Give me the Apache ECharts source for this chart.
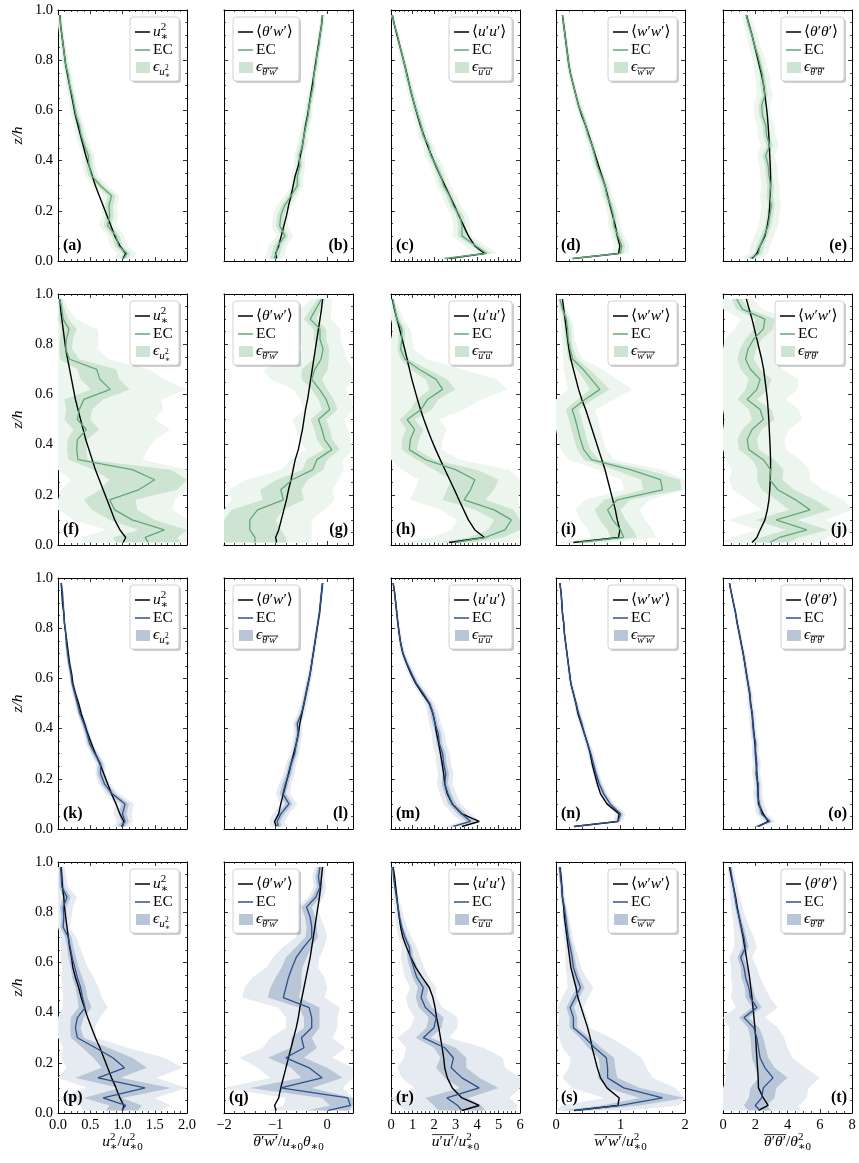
<!DOCTYPE html>
<html><head><meta charset="utf-8">
<script src="https://cdn.jsdelivr.net/npm/echarts@6/dist/echarts.min.js"></script>
<style>html,body{margin:0;padding:0;background:#fff}#c{width:859px;height:1163px}</style>
</head><body><div id="c"></div>
<script>
// heights z/h shared by all profiles
const Z = [0.01,0.03,0.06,0.1,0.14, 0.18,0.22,0.26,0.3,0.34, 0.38,0.42,0.46,0.5,0.54, 0.58,0.62,0.66,0.7,0.74, 0.78,0.82,0.86,0.9,0.94, 0.98];

// model profiles, case A (rows 1-2)
const mA_u2 = [1.01,1.05,0.96,0.88,0.82, 0.76,0.70,0.64,0.58,0.53, 0.48,0.43,0.39,0.35,0.31, 0.27,0.24,0.21,0.18,0.15, 0.12,0.10,0.08,0.06,0.04, 0.03];
const mA_tw = [-0.98,-1.0,-0.94,-0.89,-0.84, -0.79,-0.75,-0.70,-0.66,-0.62, -0.56,-0.52,-0.48,-0.45,-0.42, -0.38,-0.35,-0.32,-0.29,-0.26, -0.23,-0.20,-0.17,-0.14,-0.11, -0.09];
const mA_uu = [2.7,4.35,3.9,3.6,3.38, 3.16,2.95,2.73,2.51,2.29, 2.08,1.88,1.7,1.53,1.37, 1.23,1.1,0.97,0.86,0.75, 0.64,0.52,0.4,0.28,0.16, 0.06];
const mA_ww = [0.27,0.97,0.99,0.95,0.92, 0.88,0.84,0.80,0.76,0.71, 0.66,0.61,0.56,0.51,0.46, 0.40,0.35,0.31,0.27,0.23, 0.20,0.18,0.16,0.14,0.12, 0.10];
const mA_tt = [1.8,2.1,2.3,2.6,2.75, 2.85,2.9,2.93,2.95,2.95, 2.93,2.9,2.87,2.84,2.8, 2.75,2.68,2.6,2.52,2.4, 2.25,2.1,1.95,1.8,1.62, 1.45];
// model profiles, case B (rows 3-4)
const mB_u2 = [1.0,1.02,0.96,0.9,0.83, 0.77,0.71,0.65,0.58,0.52, 0.46,0.41,0.36,0.32,0.27, 0.23,0.21,0.18,0.16,0.14, 0.12,0.1,0.09,0.07,0.06, 0.05];
const mB_tw = [-0.99,-1.02,-0.94,-0.9,-0.85, -0.8,-0.75,-0.7,-0.65,-0.6, -0.56,-0.53,-0.49,-0.45,-0.41, -0.37,-0.33,-0.3,-0.27,-0.24, -0.21,-0.18,-0.15,-0.13,-0.11, -0.09];
const mB_uu = [3.3,4.1,3.3,2.85,2.62, 2.5,2.45,2.38,2.3,2.22, 2.12,2.05,1.95,1.78,1.45, 1.15,0.92,0.72,0.55,0.45, 0.38,0.32,0.27,0.22,0.17, 0.1];
const mB_ww = [0.28,0.96,0.98,0.79,0.69, 0.64,0.6,0.56,0.53,0.49, 0.44,0.39,0.34,0.31,0.27, 0.23,0.21,0.19,0.17,0.15, 0.13,0.12,0.1,0.09,0.08, 0.06];
const mB_tt = [2.2,2.8,2.5,2.2,2.18, 2.14,2.1,2.06,2.03,1.98, 1.92,1.86,1.8,1.72,1.65, 1.55,1.45,1.35,1.25,1.13, 1.0,0.88,0.78,0.65,0.52, 0.4];

// EC estimates per panel
const ec_a = [1.02,1.07,0.94,0.9,0.77, 0.80,0.79,0.83,0.66,0.52, 0.48,0.47,0.41,0.36,0.33, 0.28,0.25,0.22,0.18,0.16, 0.12,0.10,0.08,0.06,0.04, 0.03];
const ec_b = [-1.03,-0.99,-0.96,-0.82,-0.92, -0.90,-0.83,-0.70,-0.58,-0.58, -0.53,-0.54,-0.48,-0.45,-0.41, -0.37,-0.35,-0.31,-0.27,-0.26, -0.22,-0.20,-0.16,-0.14,-0.11, -0.09];
const ec_c = [2.5,4.45,3.95,3.3,3.3, 3.2,2.9,2.72,2.45,2.3, 2.1,1.85,1.75,1.5,1.4, 1.25,1.1,0.98,0.86,0.74, 0.64,0.52,0.4,0.3,0.16, 0.06];
const ec_d = [0.25,1.0,1.02,0.96,0.9, 0.89,0.85,0.79,0.76,0.70, 0.64,0.60,0.56,0.5,0.46, 0.41,0.35,0.31,0.27,0.23, 0.2,0.18,0.16,0.14,0.12, 0.1];
const ec_e = [1.7,2.2,2.3,2.55,2.8, 2.9,3.0,2.9,2.95,2.85, 2.8,2.65,2.9,2.7,2.65, 2.45,2.4,2.6,2.5,2.45, 2.3,2.15,1.95,1.8,1.6, 1.45];
const ec_f = [1.4,1.35,1.65,1.15,0.88, 0.8,1.25,1.5,1.15,0.31, 0.29,0.3,0.44,0.3,0.33, 0.4,0.81,0.65,0.6,0.18, 0.12,0.13,0.17,0.08,0.06, 0.03];
const ec_g = [-1.4,-1.4,-1.5,-1.5,-1.35, -0.85,-0.9,-0.68,-0.28,-0.2, 0.09,-0.05,-0.1,-0.17,0.05, -0.02,-0.15,-0.3,-0.24,-0.12, -0.08,-0.14,-0.14,-0.33,-0.22, -0.11];
const ec_h = [3.0,4.4,5.3,5.6,4.8, 3.4,3.7,3.9,3.0,1.6, 0.85,0.9,1.1,0.75,1.4, 1.7,2.4,2.1,1.3,0.65, 0.45,0.5,0.5,0.28,0.18, 0.08];
const ec_i = [0.35,1.05,1.0,0.88,0.8, 0.95,1.65,1.62,1.15,0.55, 0.43,0.38,0.34,0.3,0.25, 0.45,0.68,0.55,0.42,0.26, 0.22,0.19,0.18,0.16,0.1, 0.06];
const ec_j = [2.9,3.5,5.2,3.3,5.4, 4.5,3.4,2.9,2.95,2.5, 1.6,1.5,1.8,2.5,2.3, 1.5,2.1,2.3,1.7,1.4, 1.55,1.9,2.5,2.6,1.2, 0.85];
const ec_k = [0.98,1.04,1.0,1.04,0.84, 0.72,0.66,0.66,0.57,0.49, 0.45,0.40,0.34,0.30,0.26, 0.22,0.2,0.17,0.15,0.13, 0.12,0.1,0.09,0.08,0.07, 0.05];
const ec_l = [-0.95,-0.97,-0.9,-0.74,-0.86, -0.81,-0.74,-0.7,-0.63,-0.6, -0.56,-0.58,-0.5,-0.45,-0.41, -0.37,-0.33,-0.3,-0.27,-0.24, -0.21,-0.18,-0.15,-0.13,-0.11, -0.09];
const ec_m = [2.9,3.7,3.3,2.85,2.65, 2.5,2.55,2.45,2.4,2.25, 2.2,2.05,1.95,1.8,1.5, 1.18,0.95,0.74,0.56,0.45, 0.38,0.32,0.27,0.22,0.17, 0.1];
const ec_n = [0.28,0.96,1.0,0.84,0.74, 0.67,0.62,0.58,0.54,0.49, 0.44,0.4,0.35,0.31,0.27, 0.23,0.21,0.19,0.17,0.15, 0.13,0.12,0.1,0.09,0.08, 0.06];
const ec_o = [2.1,2.9,2.4,2.25,2.15, 2.18,2.05,2.1,2.0,2.02, 1.9,1.85,1.82,1.7,1.67, 1.55,1.45,1.36,1.25,1.12, 1.02,0.88,0.78,0.65,0.52, 0.4];
const ec_p = [0.99,1.05,0.7,1.35,0.62, 1.03,0.85,0.58,0.3,0.27, 0.3,0.42,0.38,0.35,0.3, 0.26,0.22,0.19,0.16,0.08, 0.09,0.08,0.14,0.06,0.05, 0.04];
const ec_q = [0.02,0.45,0.4,-0.9,-0.1, -0.35,-0.8,-0.45,-0.5,-0.3, -0.3,-0.35,-0.85,-0.8,-0.75, -0.68,-0.6,-0.46,-0.3,-0.3, -0.33,-0.4,-0.22,-0.14,-0.17, -0.14];
const ec_r = [3.3,3.1,2.6,4.1,3.3, 2.8,2.9,2.5,1.5,2.0, 2.1,1.6,1.4,1.5,1.2, 1.05,0.9,0.85,0.65,0.5, 0.4,0.33,0.25,0.18,0.12, 0.08];
const ec_s = [0.3,1.0,1.65,1.05,0.8, 0.8,0.78,0.6,0.45,0.27, 0.27,0.22,0.3,0.38,0.32, 0.27,0.25,0.22,0.19,0.17, 0.15,0.13,0.1,0.09,0.07, 0.06];
const ec_t = [2.3,2.0,2.4,2.5,3.1, 2.6,2.3,2.2,2.1,1.9, 1.3,2.1,1.7,1.6,1.4, 1.3,1.1,1.4,1.3,1.15, 1.0,0.85,0.75,0.65,0.55, 0.45];

// uncertainty half-widths: inner (dark) and outer (light) bands
const in_a = [0.06,0.06,0.06,0.06,0.06, 0.06,0.06,0.06,0.05,0.05, 0.05,0.05,0.04,0.04,0.04, 0.04,0.03,0.03,0.03,0.03, 0.03,0.02,0.02,0.02,0.02, 0.02];
const out_a = [0.15,0.15,0.14,0.13,0.13, 0.13,0.12,0.12,0.12,0.1, 0.1,0.09,0.09,0.08,0.08, 0.07,0.07,0.06,0.06,0.05, 0.05,0.05,0.04,0.04,0.04, 0.03];
const in_b = [0.08,0.08,0.08,0.07,0.07, 0.07,0.06,0.06,0.06,0.05, 0.05,0.05,0.05,0.04,0.04, 0.04,0.04,0.04,0.03,0.03, 0.03,0.03,0.03,0.03,0.03, 0.02];
const out_b = [0.18,0.18,0.17,0.16,0.16, 0.15,0.14,0.13,0.12,0.12, 0.11,0.1,0.1,0.09,0.08, 0.08,0.07,0.07,0.06,0.06, 0.06,0.05,0.05,0.05,0.04, 0.04];
const in_c = [0.2,0.2,0.2,0.2,0.18, 0.17,0.16,0.15,0.15,0.14, 0.13,0.12,0.12,0.11,0.1, 0.1,0.09,0.09,0.08,0.08, 0.07,0.07,0.06,0.06,0.05, 0.04];
const out_c = [0.5,0.5,0.5,0.45,0.4, 0.38,0.36,0.34,0.32,0.3, 0.3,0.28,0.26,0.24,0.22, 0.2,0.2,0.18,0.16,0.15, 0.14,0.13,0.12,0.1,0.08, 0.06];
const in_d = [0.05,0.05,0.05,0.05,0.04, 0.04,0.04,0.04,0.04,0.04, 0.03,0.03,0.03,0.03,0.03, 0.03,0.03,0.02,0.02,0.02, 0.02,0.02,0.02,0.02,0.02, 0.01];
const out_d = [0.12,0.12,0.12,0.1,0.09, 0.09,0.08,0.08,0.08,0.07, 0.07,0.07,0.06,0.06,0.06, 0.05,0.05,0.05,0.04,0.04, 0.04,0.03,0.03,0.03,0.03, 0.02];
const in_e = [0.25,0.25,0.22,0.2,0.2, 0.2,0.2,0.2,0.2,0.2, 0.2,0.2,0.2,0.2,0.2, 0.2,0.2,0.18,0.18,0.16, 0.15,0.14,0.13,0.12,0.12, 0.1];
const out_e = [0.6,0.6,0.6,0.6,0.6, 0.6,0.6,0.6,0.55,0.55, 0.55,0.55,0.55,0.55,0.55, 0.5,0.5,0.5,0.45,0.45, 0.4,0.4,0.35,0.35,0.3, 0.25];
const in_f = [0.5,0.5,0.4,0.35,0.35, 0.4,0.6,0.7,0.6,0.15, 0.15,0.15,0.2,0.2,0.2, 0.3,0.3,0.3,0.3,0.15, 0.1,0.1,0.12,0.08,0.04, 0.03];
const out_f = [1.0,1.0,0.9,0.9,0.9, 1.0,1.2,1.3,1.2,1.0, 1.1,1.2,1.3,1.2,1.3, 1.2,1.2,1.0,0.8,0.6, 0.5,0.5,0.45,0.2,0.1, 0.06];
const in_g = [0.6,0.6,0.6,0.5,0.5, 0.4,0.4,0.3,0.2,0.2, 0.15,0.15,0.15,0.15,0.15, 0.15,0.15,0.2,0.25,0.15, 0.12,0.12,0.12,0.12,0.1, 0.08];
const out_g = [1.1,1.1,1.2,1.2,1.3, 1.0,1.0,0.9,0.6,0.5, 0.5,0.5,0.5,0.5,0.5, 0.5,0.5,0.8,1.0,0.5, 0.4,0.4,0.4,0.4,0.3, 0.2];
const in_h = [0.8,0.8,0.8,0.8,0.9, 1.0,1.1,1.1,1.0,0.4, 0.35,0.4,0.4,0.35,0.5, 0.5,0.6,0.5,0.4,0.2, 0.15,0.15,0.15,0.12,0.08, 0.05];
const out_h = [2.5,2.5,2.5,2.5,2.5, 2.5,2.6,2.6,2.5,1.6, 1.5,1.5,1.5,1.5,2.0, 2.5,3.0,2.8,2.0,1.0, 0.6,0.5,0.4,0.3,0.2, 0.1];
const in_i = [0.2,0.2,0.2,0.2,0.2, 0.2,0.3,0.3,0.25,0.12, 0.1,0.1,0.1,0.1,0.1, 0.12,0.15,0.12,0.1,0.07, 0.05,0.05,0.05,0.04,0.03, 0.02];
const out_i = [0.5,0.5,0.5,0.5,0.5, 0.5,0.6,0.6,0.5,0.35, 0.35,0.35,0.35,0.35,0.35, 0.45,0.5,0.4,0.3,0.15, 0.12,0.1,0.1,0.08,0.06, 0.04];
const in_j = [1.2,1.2,1.3,1.3,1.3, 1.2,1.0,0.8,0.8,0.7, 0.6,0.6,0.6,0.7,0.7, 0.6,0.7,0.7,0.6,0.5, 0.5,0.5,0.6,0.6,0.4, 0.3];
const out_j = [3.0,3.0,3.0,3.0,3.0, 3.0,2.8,2.5,2.4,2.3, 2.3,2.3,2.3,2.4,2.4, 2.4,2.5,2.4,2.0,1.8, 1.8,1.8,1.8,1.5,1.2, 1.0];
const in_k = [0.06,0.06,0.06,0.06,0.05, 0.05,0.05,0.04,0.04,0.03, 0.03,0.03,0.03,0.02,0.02, 0.02,0.02,0.02,0.02,0.02, 0.01,0.01,0.01,0.01,0.01, 0.01];
const out_k = [0.12,0.12,0.14,0.14,0.1, 0.09,0.08,0.07,0.06,0.06, 0.05,0.05,0.04,0.04,0.04, 0.03,0.03,0.03,0.03,0.02, 0.02,0.02,0.02,0.02,0.02, 0.02];
const in_l = [0.06,0.06,0.07,0.07,0.06, 0.06,0.05,0.05,0.04,0.04, 0.04,0.04,0.03,0.03,0.03, 0.03,0.02,0.02,0.02,0.02, 0.02,0.02,0.02,0.02,0.02, 0.02];
const out_l = [0.15,0.15,0.16,0.16,0.14, 0.12,0.11,0.1,0.09,0.08, 0.08,0.08,0.07,0.06,0.06, 0.05,0.05,0.04,0.04,0.04, 0.03,0.03,0.03,0.03,0.03, 0.03];
const in_m = [0.2,0.2,0.2,0.18,0.16, 0.15,0.15,0.14,0.14,0.13, 0.13,0.12,0.12,0.1,0.09, 0.08,0.07,0.06,0.05,0.04, 0.04,0.03,0.03,0.03,0.03, 0.02];
const out_m = [0.45,0.45,0.45,0.4,0.38, 0.36,0.36,0.34,0.34,0.32, 0.3,0.28,0.26,0.22,0.2, 0.18,0.15,0.13,0.11,0.1, 0.08,0.07,0.06,0.06,0.05, 0.04];
const in_n = [0.03,0.03,0.04,0.03,0.03, 0.03,0.03,0.02,0.02,0.02, 0.02,0.02,0.02,0.02,0.01, 0.01,0.01,0.01,0.01,0.01, 0.01,0.01,0.01,0.01,0.01, 0.01];
const out_n = [0.06,0.07,0.08,0.07,0.06, 0.06,0.05,0.05,0.05,0.04, 0.04,0.04,0.04,0.03,0.03, 0.03,0.03,0.02,0.02,0.02, 0.02,0.02,0.02,0.02,0.02, 0.01];
const in_o = [0.15,0.15,0.15,0.12,0.12, 0.12,0.1,0.1,0.1,0.1, 0.1,0.1,0.08,0.08,0.08, 0.07,0.07,0.06,0.06,0.06, 0.05,0.05,0.05,0.04,0.04, 0.04];
const out_o = [0.35,0.35,0.35,0.3,0.28, 0.26,0.25,0.24,0.22,0.22, 0.2,0.2,0.18,0.18,0.16, 0.15,0.14,0.13,0.12,0.11, 0.1,0.1,0.09,0.08,0.07, 0.06];
const in_p = [0.25,0.25,0.3,0.4,0.35, 0.35,0.3,0.2,0.1,0.08, 0.1,0.1,0.08,0.08,0.08, 0.06,0.06,0.05,0.05,0.04, 0.04,0.05,0.06,0.04,0.03, 0.02];
const out_p = [0.6,0.7,0.8,0.9,0.9, 0.9,0.8,0.5,0.3,0.3, 0.35,0.35,0.3,0.28,0.25, 0.2,0.18,0.15,0.12,0.1, 0.12,0.15,0.15,0.1,0.08, 0.06];
const in_q = [0.4,0.4,0.5,0.6,0.4, 0.35,0.35,0.25,0.2,0.15, 0.15,0.2,0.3,0.3,0.25, 0.2,0.2,0.15,0.12,0.1, 0.1,0.1,0.08,0.06,0.06, 0.05];
const out_q = [1.2,1.3,1.2,1.2,1.0, 1.0,0.9,0.8,0.6,0.5, 0.5,0.6,0.8,0.8,0.7, 0.5,0.45,0.4,0.3,0.25, 0.2,0.2,0.15,0.12,0.12, 0.1];
const in_r = [1.1,1.1,1.0,0.9,0.8, 0.7,0.6,0.5,0.35,0.35, 0.35,0.3,0.25,0.25,0.2, 0.18,0.15,0.12,0.1,0.08, 0.06,0.05,0.05,0.04,0.03, 0.03];
const out_r = [2.5,2.8,2.9,3.0,2.8, 2.5,2.3,1.8,1.2,1.1, 1.0,0.8,0.7,0.6,0.55, 0.5,0.45,0.35,0.3,0.25, 0.2,0.15,0.12,0.1,0.08, 0.06];
const in_s = [0.2,0.3,0.35,0.25,0.15, 0.12,0.12,0.1,0.08,0.06, 0.06,0.06,0.06,0.06,0.05, 0.05,0.04,0.04,0.03,0.03, 0.03,0.02,0.02,0.02,0.02, 0.02];
const out_s = [0.8,0.9,0.9,0.8,0.7, 0.6,0.55,0.5,0.4,0.25, 0.22,0.2,0.2,0.2,0.15, 0.12,0.1,0.08,0.07,0.06, 0.05,0.04,0.04,0.03,0.03, 0.03];
const in_t = [0.7,0.7,0.8,0.8,0.9, 0.6,0.5,0.45,0.4,0.35, 0.3,0.3,0.3,0.25,0.25, 0.2,0.2,0.2,0.15,0.15, 0.12,0.1,0.1,0.08,0.08, 0.06];
const out_t = [2.5,2.7,2.8,2.8,2.9, 2.5,2.0,1.8,1.7,1.5, 1.3,1.3,1.2,1.0,0.9, 0.8,0.7,0.7,0.6,0.5, 0.4,0.35,0.3,0.25,0.2, 0.15];

// tick settings per column
const xMins = [0, -2, 0, 0, 0];
const xMaxs = [2, 0.5, 6, 2, 8];
const xSteps = [0.5, 1, 1, 1, 2];
const xMinorSplit = [5, 5, 5, 5, 4];

const ECS = {a:ec_a,b:ec_b,c:ec_c,d:ec_d,e:ec_e,f:ec_f,g:ec_g,h:ec_h,i:ec_i,j:ec_j,k:ec_k,l:ec_l,m:ec_m,n:ec_n,o:ec_o,p:ec_p,q:ec_q,r:ec_r,s:ec_s,t:ec_t};
const INS = {a:in_a,b:in_b,c:in_c,d:in_d,e:in_e,f:in_f,g:in_g,h:in_h,i:in_i,j:in_j,k:in_k,l:in_l,m:in_m,n:in_n,o:in_o,p:in_p,q:in_q,r:in_r,s:in_s,t:in_t};
const OUTS = {a:out_a,b:out_b,c:out_c,d:out_d,e:out_e,f:out_f,g:out_g,h:out_h,i:out_i,j:out_j,k:out_k,l:out_l,m:out_m,n:out_n,o:out_o,p:out_p,q:out_q,r:out_r,s:out_s,t:out_t};
const MODELS = [[mA_u2,mA_tw,mA_uu,mA_ww,mA_tt],[mB_u2,mB_tw,mB_uu,mB_ww,mB_tt]];

const GREEN = {line:'#62a877', inner:'#cde4d3', outer:'#edf5ef'};
const BLUE  = {line:'#2d5188', inner:'#b9c6d8', outer:'#e6eaf1'};

const FF = '"Liberation Serif", "DejaVu Serif", "DejaVu Sans", serif';
const colL = [58, 224, 391, 556, 723];
const rowT = [10, 294, 578, 862];
const GW = 129, GH = 251;

const mctx = document.createElement('canvas').getContext('2d');
function fontStr(sz, it, b){ return (it?'italic ':'') + (b?'bold ':'') + sz + 'px ' + FF; }
function measure(t, sz, it){ mctx.font = fontStr(sz, it); return mctx.measureText(t).width; }
function layoutTokens(tokens){
  let x = 0, prevStart = 0; const out = [];
  for (const tk of tokens){
    const [t, sz, dy=0, it=0, ov=0, st=0] = tk;
    const w = measure(t, sz, it);
    let px;
    if (st){ px = prevStart; x = Math.max(x, px + w); } else { px = x; x += w; }
    out.push({t, sz, dy, it, ov, px, w});
    prevStart = px;
  }
  return {items: out, width: x};
}
function drawTokens(els, tokens, x, baseY, align, z){
  const L = layoutTokens(tokens);
  const off = align==='center' ? x - L.width/2 : align==='right' ? x - L.width : x;
  let a = Infinity, b = -Infinity, oy = null;
  for (const p of L.items){
    els.push({type:'text', z:z, silent:true, style:{text:p.t, x:off+p.px, y:baseY+p.dy-0.33*p.sz, font:fontStr(p.sz,p.it), fill:'#000', align:'left', verticalAlign:'middle'}});
    if (p.ov){ a = Math.min(a, off+p.px); b = Math.max(b, off+p.px+p.w); oy = baseY + p.dy - 0.8*p.sz; }
  }
  if (oy !== null) els.push({type:'line', z:z, silent:true, shape:{x1:a, y1:oy, x2:b, y2:oy}, style:{stroke:'#000', lineWidth:0.8}});
  return L.width;
}

// label token sets (text, size, dy, italic, overline, stacked)
const S = 15.5, SS = 11;
const bra = (p, q) => [['⟨',S],[p,S,0,1],['′',S],[q,S,0,1],['′',S],['⟩',S]];
const MODEL_TOK = {
  u2: [['u',S,0,1],['2',SS,-6],['∗',SS,4,0,0,1]],
  tw: bra('θ','w'), uu: bra('u','u'), ww: bra('w','w'), tt: bra('θ','θ')
};
const epsOv = (p, q) => [['ϵ',S,0,1],[p,10,4,1,1],['′',10,4,0,1],[q,10,4,1,1],['′',10,4,0,1]];
const EPS_TOK = {
  u2: [['ϵ',S,0,1],['u',SS,4,1],['2',8,-1],['∗',8,7,0,0,1]],
  tw: epsOv('θ','w'), uu: epsOv('u','u'), ww: epsOv('w','w'), tt: epsOv('θ','θ')
};
const XLAB_TOK = [
  [['u',S,0,1],['2',SS,-6],['∗',SS,4,0,0,1],['/',S],['u',S,0,1],['∗0',SS,4],['2',SS,-6,0,0,1]],
  [['θ',S,0,1,1],['′',S,0,0,1],['w',S,0,1,1],['′',S,0,0,1],['/',S],['u',S,0,1],['∗0',SS,4],['θ',S,0,1],['∗0',SS,4]],
  [['u',S,0,1,1],['′',S,0,0,1],['u',S,0,1,1],['′',S,0,0,1],['/',S],['u',S,0,1],['∗0',SS,4],['2',SS,-6,0,0,1]],
  [['w',S,0,1,1],['′',S,0,0,1],['w',S,0,1,1],['′',S,0,0,1],['/',S],['u',S,0,1],['∗0',SS,4],['2',SS,-6,0,0,1]],
  [['θ',S,0,1,1],['′',S,0,0,1],['θ',S,0,1,1],['′',S,0,0,1],['/',S],['θ',S,0,1],['∗0',SS,4],['2',SS,-6,0,0,1]]
];
const TYPES = ['u2','tw','uu','ww','tt'];

const letters = 'abcdefghijklmnopqrst';
const grids = [], xAxes = [], yAxes = [], series = [], els = [];
const axLine = {show:true, onZero:false, lineStyle:{color:'#000', width:1}};
const tick = {show:true, inside:true, length:4, lineStyle:{color:'#000', width:0.8}};

function bandRender(lo, hi, color){
  return function(params, api){
    if (params.dataIndex !== 0) return null;
    const n = Math.min(Z.length, lo.length, hi.length);
    const pts = [];
    for (let i = 0; i < n; i++) pts.push(api.coord([lo[i], Z[i]]));
    for (let i = n-1; i >= 0; i--) pts.push(api.coord([hi[i], Z[i]]));
    const cs = params.coordSys;
    return {type:'polygon', silent:true,
      shape:{points: echarts.graphic.clipPointsByRect(pts, {x:cs.x, y:cs.y, width:cs.width, height:cs.height})},
      style:{fill:color}};
  };
}

for (let r = 0; r < 4; r++){
  for (let c = 0; c < 5; c++){
    const p = r*5 + c, L = letters[p];
    const pal = r < 2 ? GREEN : BLUE;
    const model = MODELS[r < 2 ? 0 : 1][c];
    const ec = ECS[L], wi = INS[L], wo = OUTS[L];
    grids.push({left: colL[c], top: rowT[r], width: GW, height: GH, show:false});
    const xb = {gridIndex:p, type:'value', min:xMins[c], max:xMaxs[c], interval:xSteps[c],
      axisLine:axLine, axisTick:tick, splitLine:{show:false},
      minorTick:{show:true, splitNumber:xMinorSplit[c], length:2, lineStyle:{color:'#000', width:0.7}},
      axisLabel:{show: r===3, color:'#000', fontFamily:FF, fontSize:14.5, margin:5, showMaxLabel: c!==1,
        formatter: v => c===0 ? v.toFixed(1) : (v < 0 ? '−' + Math.abs(v) : String(v))}};
    xAxes.push(Object.assign({}, xb, {position:'bottom'}));
    xAxes.push(Object.assign({}, xb, {position:'top', axisLabel:{show:false}}));
    const yb = {gridIndex:p, type:'value', min:0, max:1, interval:0.2,
      axisLine:axLine, axisTick:tick, splitLine:{show:false},
      minorTick:{show:true, splitNumber:4, length:2, lineStyle:{color:'#000', width:0.7}},
      axisLabel:{show: c===0, color:'#000', fontFamily:FF, fontSize:14.5, margin:5, formatter: v => v.toFixed(1)}};
    yAxes.push(Object.assign({}, yb, {position:'left'}));
    yAxes.push(Object.assign({}, yb, {position:'right', axisLabel:{show:false}}));

    const n = Z.length;
    const oLo = [], oHi = [], iLo = [], iHi = [];
    for (let i = 0; i < n; i++){ oLo.push(ec[i]-wo[i]); oHi.push(ec[i]+wo[i]); iLo.push(ec[i]-wi[i]); iHi.push(ec[i]+wi[i]); }
    const pts = Z.map((z,i) => [ec[i], z]);
    series.push({type:'custom', xAxisIndex:2*p, yAxisIndex:2*p, z:1, silent:true, animation:false,
      renderItem: bandRender(oLo, oHi, pal.outer), data: pts});
    series.push({type:'custom', xAxisIndex:2*p, yAxisIndex:2*p, z:1, silent:true, animation:false,
      renderItem: bandRender(iLo, iHi, pal.inner), data: pts});
    series.push({type:'line', xAxisIndex:2*p, yAxisIndex:2*p, z:3, showSymbol:false, symbol:'none', silent:true,
      data: Z.map((z,i) => [model[i], z]), lineStyle:{color:'#000', width:1.4}, animation:false});
    series.push({type:'line', xAxisIndex:2*p, yAxisIndex:2*p, z:4, showSymbol:false, symbol:'none', silent:true,
      data: pts, lineStyle:{color:pal.line, width:1.3}, animation:false});

    // legend box
    const mt = MODEL_TOK[p === 9 ? 'ww' : TYPES[c]], et = EPS_TOK[TYPES[c]];
    const wM = layoutTokens(mt).width, wE = layoutTokens(et).width, wC = measure('EC',S,0);
    const bw = Math.round(23 + Math.max(wM, wE, wC) + 6), bh = 64;
    const bx = c === 1 ? colL[c] + 9 : colL[c] + GW - 8 - bw;
    const by = rowT[r] + 7;
    els.push({type:'rect', z:90, silent:true, shape:{x:bx+2, y:by+2, width:bw, height:bh, r:3}, style:{fill:'rgba(0,0,0,0.2)'}});
    els.push({type:'rect', z:91, silent:true, shape:{x:bx, y:by, width:bw, height:bh, r:3}, style:{fill:'#ffffff', stroke:'#d2d2d2', lineWidth:1}});
    const ry = [by+15, by+33, by+51];
    els.push({type:'line', z:92, silent:true, shape:{x1:bx+5, y1:ry[0], x2:bx+20, y2:ry[0]}, style:{stroke:'#000', lineWidth:1.5}});
    els.push({type:'line', z:92, silent:true, shape:{x1:bx+5, y1:ry[1], x2:bx+20, y2:ry[1]}, style:{stroke:pal.line, lineWidth:1.5}});
    els.push({type:'rect', z:92, silent:true, shape:{x:bx+6, y:ry[2]-6, width:14, height:11}, style:{fill:pal.inner}});
    drawTokens(els, mt, bx+23, ry[0]+5, 'left', 93);
    drawTokens(els, [['EC',S]], bx+23, ry[1]+5, 'left', 93);
    drawTokens(els, et, bx+23, ry[2]+4, 'left', 93);

    // panel label
    const lab = '(' + L + ')';
    const right = (c === 4) || (c === 1 && r < 3);
    els.push({type:'text', z:93, silent:true, style:{text:lab, x: right ? colL[c]+GW-5 : colL[c]+5, y: rowT[r]+GH-10-0.33*16,
      font: fontStr(16,0,1), fill:'#000', align: right ? 'right' : 'left', verticalAlign:'middle'}});
  }
  // y axis title
  els.push({type:'text', z:93, silent:true, x:18, y:rowT[r]+GH/2, rotation:Math.PI/2,
    style:{text:'z/h', x:0, y:0, font:fontStr(15.5,1), fill:'#000', align:'center', verticalAlign:'middle'}});
}
// x axis titles
for (let c = 0; c < 5; c++) drawTokens(els, XLAB_TOK[c], colL[c] + GW/2, 1147, 'center', 93);

const chart = echarts.init(document.getElementById('c'), null, {renderer:'canvas'});
chart.setOption({animation:false, backgroundColor:'#fff', grid:grids, xAxis:xAxes, yAxis:yAxes, series:series, graphic:{elements:els}});
</script></body></html>
